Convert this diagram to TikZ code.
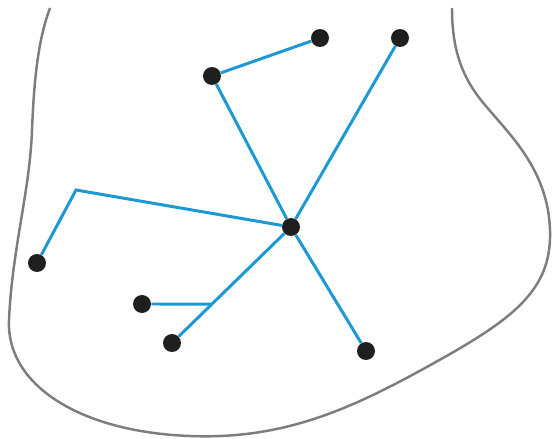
\documentclass[tikz,border=0pt]{standalone}
\usetikzlibrary{calc}
\definecolor{edgeblue}{RGB}{28,152,212}
\definecolor{rimgray}{RGB}{125,125,125}
\tikzset{
	dot/.style={circle,fill=black!88,inner sep=0pt,minimum size=0.36cm},
	edge/.style={edgeblue,line width=1.7pt},
	rim/.style={rimgray,line width=1.4pt}
}
\begin{document}
\begin{tikzpicture}[x=0.02cm,y=-0.02cm]
		  \useasboundingbox (0,0) rectangle (555,439);
		  \draw[rim] (50,8) .. controls (38,40) and (34,80) .. (32,130)
		    .. controls (30,190) and (12,250) .. (9,320)
		    .. controls (6,385) and (80,432) .. (190,436)
		    .. controls (290,440) and (360,405) .. (450,354)
		    .. controls (520,314) and (552,285) .. (550,230)
		    .. controls (548,170) and (510,135) .. (485,105)
		    .. controls (462,78) and (452,50) .. (452,8);
		  \node[dot] (c) at (291,227) {};
		  \node[dot] (a) at (212,76) {};
		  \node[dot] (b) at (320,38) {};
		  \node[dot] (t) at (400,38) {};
		  \node[dot] (l) at (37,263) {};
		  \node[dot] (s1) at (142,304) {};
		  \node[dot] (s2) at (172,343) {};
		  \node[dot] (r) at (366,351) {};
		  \coordinate (k) at (76,190);
		  \coordinate (j) at ($(c)!0.664!(s2)$);
		  \draw[edge] (c) -- (a) -- (b);
		  \draw[edge] (c) -- (t);
		  \draw[edge] (c) -- (k) -- (l);
		  \draw[edge] (c) -- (s2);
		  \draw[edge] (s1) -- (j);
		  \draw[edge] (c) -- (r);
		\end{tikzpicture}
\end{document}
